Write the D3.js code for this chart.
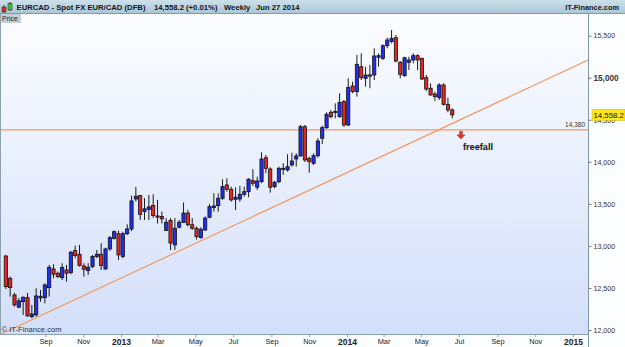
<!DOCTYPE html>
<html>
<head>
<meta charset="utf-8">
<script src="https://cdn.jsdelivr.net/npm/d3@7"></script>
<style>
body { margin: 0; background: #fff; }
svg { display: block; font-family: "Liberation Sans", Arial, sans-serif; }
</style>
</head>
<body>
<svg id="myGraph"></svg>
<script>
var width = 625;
var height = 347;

// weekly EUR/CAD candles (Jun 2012 - Jun 2014)
var opens = [12880,12615,12417,12271,12337,12385,12159,12179,12381,12385,12504,12726,12675,12623,12714,12682,12944,12901,12762,12706,
  12754,12873,12901,12726,12964,13089,13145,12873,13145,13202,13558,13598,13409,13432,13480,13357,13349,13184,13303,13012,
  13222,13279,13391,13252,13210,13098,13190,13341,13455,13479,13567,13725,13674,13555,13558,13614,13645,13776,13698,13764,
  14049,13915,13705,13764,13915,13903,13963,14034,14070,14418,14042,13983,14073,14280,14406,14589,14587,14537,14716,14438,
  14902,14835,15131,14993,15033,15033,15243,15231,15381,15429,15476,15184,15024,15184,15211,15262,15231,15001,14875,14807,
  14763,14914,14684,14617];
var highs = [12893,12635,12441,12381,12397,12441,12298,12497,12476,12556,12774,12782,12695,12794,12774,12940,13003,13012,12794,12794,
  12893,12952,13032,12979,13119,13184,13184,13169,13257,13598,13701,13606,13568,13606,13614,13547,13409,13331,13331,13331,
  13309,13517,13429,13331,13231,13222,13351,13499,13626,13626,13793,13805,13705,13698,13713,13705,13805,13912,13824,14114,
  14082,13935,13772,13942,13983,14090,14109,14102,14438,14438,14061,14102,14280,14430,14589,14617,14696,14815,14736,14993,
  14953,15271,15291,15131,15152,15350,15291,15398,15476,15568,15508,15199,15250,15250,15291,15279,15238,15033,14934,14834,
  14934,14934,14763,14637];
var lows = [12488,12397,12278,12262,12179,12159,12140,12159,12337,12318,12397,12616,12616,12595,12575,12663,12854,12754,12635,12655,
  12735,12854,12714,12714,12940,13077,12833,12854,13129,13176,13527,13309,13309,13309,13333,13266,13266,13176,12952,12952,
  13210,13272,13231,13190,13077,13086,13176,13329,13407,13407,13547,13645,13526,13428,13526,13586,13579,13713,13666,13745,
  13864,13633,13686,13745,13844,13883,13942,13942,14061,13998,13871,13963,14049,14212,14391,14517,14517,14525,14418,14426,
  14815,14775,14973,14894,14875,14973,15131,15211,15350,15410,15184,14993,15013,15092,15172,15092,14973,14842,14787,14724,
  14736,14668,14589,14517];
var closes = [12516,12504,12298,12346,12390,12167,12191,12405,12401,12536,12746,12663,12635,12744,12675,12925,12885,12766,12723,12746,
  12873,12901,12766,12964,13098,13169,12893,13145,13202,13535,13591,13376,13441,13464,13361,13349,13322,13282,13034,13210,
  13282,13391,13252,13210,13110,13198,13331,13467,13475,13567,13705,13674,13547,13579,13614,13645,13793,13745,13772,14034,
  13923,13698,13757,13923,13923,13942,14010,14070,14418,14022,14002,14073,14248,14406,14566,14537,14599,14708,14438,14886,
  14835,15160,15001,15033,15030,15259,15262,15381,15449,15469,15199,15041,15238,15211,15262,15211,14985,14866,14795,14775,
  14914,14684,14617,14558.2];
var weeks = d3.timeFriday.range(new Date(2012, 5, 29), new Date(2014, 5, 21));

var priceTicks = [12000, 12500, 13000, 13500, 14000, 14500, 15000, 15500];
var supportLevel = 14380;
var lastPrice = 14558.2;
var trendDates = [new Date(2012, 7, 1), new Date(2014, 5, 1)];
var trendPrices = [12091, 14391];
var arrowDate = new Date(2014, 6, 4);

var plotLeft = 1, plotRight = 588, plotTop = 14, plotBottom = 334;

var svg = d3.select("#myGraph")
    .attr("width", width)
    .attr("height", height);

var x = d3.scaleTime()
    .domain([new Date(2013, 0, 1), new Date(2015, 0, 1)])
    .range([121, 573]);
var y = d3.scaleLinear()
    .domain([12000, 15500])
    .range([330, 35.7]);

var defs = svg.append("defs");
var bg = defs.append("linearGradient").attr("id", "bg").attr("x1", 0).attr("y1", 0).attr("x2", 0).attr("y2", 1);
bg.append("stop").attr("offset", "0%").attr("stop-color", "#fcfdff");
bg.append("stop").attr("offset", "100%").attr("stop-color", "#d3dffa");
var hd = defs.append("linearGradient").attr("id", "hd").attr("x1", 0).attr("y1", 0).attr("x2", 0).attr("y2", 1);
hd.append("stop").attr("offset", "0%").attr("stop-color", "#cde0ea");
hd.append("stop").attr("offset", "100%").attr("stop-color", "#a9c5d5");
defs.append("clipPath").attr("id", "plotClip")
  .append("rect").attr("x", plotLeft).attr("y", plotTop)
  .attr("width", plotRight - plotLeft).attr("height", plotBottom - plotTop);

// backgrounds
svg.append("rect").attr("width", width).attr("height", height).attr("fill", "#fcfdfe");
svg.append("rect")
    .attr("x", plotLeft).attr("y", plotTop)
    .attr("width", plotRight - plotLeft).attr("height", plotBottom - plotTop)
    .attr("fill", "url(#bg)");

// header bar
svg.append("rect").attr("width", width).attr("height", 14).attr("fill", "url(#hd)");
svg.append("line").attr("x1", 0).attr("x2", width).attr("y1", 13.5).attr("y2", 13.5).attr("stroke", "#7f9bab");
var icon = svg.append("g");
icon.append("line").attr("x1", 4).attr("x2", 4).attr("y1", 5).attr("y2", 13).attr("stroke", "#333");
icon.append("rect").attr("x", 2).attr("y", 7).attr("width", 4).attr("height", 5).attr("fill", "#e02a22").attr("stroke", "#333").attr("stroke-width", 0.6);
icon.append("line").attr("x1", 10).attr("x2", 10).attr("y1", 2).attr("y2", 11).attr("stroke", "#333");
icon.append("rect").attr("x", 8).attr("y", 3.5).attr("width", 4).attr("height", 6.5).attr("fill", "#3fc23a").attr("stroke", "#333").attr("stroke-width", 0.6);

var headerText = [
  {x: 16.5, t: "EURCAD - Spot FX EUR/CAD (DFB)"},
  {x: 154, t: "14,558.2 (+0.01%)"},
  {x: 224, t: "Weekly"},
  {x: 256, t: "Jun 27 2014"}
];
svg.selectAll(".hdr").data(headerText).enter().append("text")
    .attr("x", function(d){ return d.x; })
    .attr("y", 10.3)
    .attr("font-size", "7.7px").attr("font-weight", "bold").attr("fill", "#151515")
    .text(function(d){ return d.t; });
svg.append("text").attr("x", 619).attr("y", 10.3).attr("text-anchor", "end")
    .attr("font-size", "7.4px").attr("font-weight", "bold").attr("fill", "#151515")
    .text("IT-Finance.com");

// "Price" tag
svg.append("rect").attr("x", 0).attr("y", 14).attr("width", 21).attr("height", 9).attr("fill", "#c3cfd7");
svg.append("text").attr("x", 2).attr("y", 21).attr("font-size", "7px").attr("fill", "#222").text("Price");

// frame lines
svg.append("line").attr("x1", 0.5).attr("x2", 0.5).attr("y1", 14).attr("y2", plotBottom).attr("stroke", "#8da2b0");
svg.append("line").attr("x1", plotRight + 0.5).attr("x2", plotRight + 0.5).attr("y1", 14).attr("y2", height).attr("stroke", "#7e96a6");
svg.append("line").attr("x1", 0).attr("x2", plotRight).attr("y1", plotBottom + 0.5).attr("y2", plotBottom + 0.5).attr("stroke", "#8aa0b0");

var plot = svg.append("g").attr("clip-path", "url(#plotClip)");

// support line
plot.append("line")
    .attr("x1", plotLeft).attr("x2", plotRight)
    .attr("y1", y(supportLevel)).attr("y2", y(supportLevel))
    .attr("stroke", "#f39a62").attr("stroke-width", 1.2);
svg.append("text").attr("x", 585).attr("y", y(supportLevel) - 2.5).attr("text-anchor", "end")
    .attr("font-size", "6.5px").attr("fill", "#333").text(d3.format(",")(supportLevel));

// trend line, extended across the plot
var trendSlope = (trendPrices[1] - trendPrices[0]) / (trendDates[1] - trendDates[0]);
function trendAt(date) { return trendPrices[0] + trendSlope * (date - trendDates[0]); }
var tStart = x.invert(plotLeft - 5), tEnd = x.invert(plotRight);
plot.append("line")
    .attr("x1", x(tStart)).attr("y1", y(trendAt(tStart)))
    .attr("x2", x(tEnd)).attr("y2", y(trendAt(tEnd)))
    .attr("stroke", "#f39a62").attr("stroke-width", 1.2);

// candles
var candle = plot.selectAll(".candle")
    .data(weeks)
    .enter().append("g").attr("class", "candle");
candle.append("line")
    .attr("x1", function(d){ return x(d); })
    .attr("x2", function(d){ return x(d); })
    .attr("y1", function(d, i){ return y(highs[i]); })
    .attr("y2", function(d, i){ return y(lows[i]); })
    .attr("stroke", "#1a1a1a").attr("stroke-width", 1);
candle.append("rect")
    .attr("x", function(d){ return x(d) - 1.6; })
    .attr("width", 3.2)
    .attr("y", function(d, i){ return y(Math.max(opens[i], closes[i])); })
    .attr("height", function(d, i){ return Math.max(1.2, Math.abs(y(opens[i]) - y(closes[i]))); })
    .attr("fill", function(d, i){ return closes[i] >= opens[i] ? "#1f2ff0" : "#e6261f"; })
    .attr("stroke", "#111").attr("stroke-width", 0.8);

// arrow + annotation
var ax = x(arrowDate), ay = y(supportLevel) + 1.5;
svg.append("path")
    .attr("d", "M" + (ax - 1.5) + "," + ay + "h3v3.5h2.5l-4,4l-4,-4h2.5z")
    .attr("fill", "#e03a2e").attr("stroke", "#a82018").attr("stroke-width", 0.5);
svg.append("text").attr("x", ax + 2).attr("y", y(supportLevel) + 20)
    .attr("font-size", "9.2px").attr("font-weight", "bold").attr("fill", "#111")
    .text("freefall");

// watermark
svg.append("text").attr("x", 1.5).attr("y", 332).attr("font-size", "7.6px").attr("fill", "#333")
    .text("\u00a9 IT-Finance.com");

// y axis
var yAxis = svg.append("g")
    .attr("transform", "translate(" + (plotRight + 0.5) + ",0)")
    .call(d3.axisRight(y).tickValues(priceTicks).tickSize(3).tickPadding(2).tickFormat(d3.format(",")));
yAxis.select(".domain").remove();
yAxis.selectAll(".tick line").attr("stroke", "#777");
yAxis.selectAll(".tick text")
    .attr("fill", "#333")
    .attr("font-family", "'Liberation Sans', Arial, sans-serif")
    .attr("font-size", function(d){ return d === 15000 ? "8.2px" : "7.1px"; })
    .attr("font-weight", function(d){ return d === 15000 ? "bold" : "normal"; });

// last price tag
svg.append("rect").attr("x", 592).attr("y", y(lastPrice) - 5.5).attr("width", 33).attr("height", 11)
    .attr("fill", "#ffe81a").attr("stroke", "#c8b400").attr("stroke-width", 0.5);
svg.append("text").attr("x", 593.5).attr("y", y(lastPrice) + 3)
    .attr("font-size", "7.8px").attr("fill", "#111").text(d3.format(",.1f")(lastPrice));

// x axis: every second month across the visible range
var monthTicks = d3.timeMonth.every(2).range(x.invert(10), x.invert(585));
var xAxis = svg.append("g")
    .attr("transform", "translate(0," + (plotBottom + 0.5) + ")")
    .call(d3.axisBottom(x)
        .tickValues(monthTicks)
        .tickSize(2.5).tickPadding(1.5)
        .tickFormat(function(d){ return d.getMonth() === 0 ? d3.timeFormat("%Y")(d) : d3.timeFormat("%b")(d); }));
xAxis.select(".domain").remove();
xAxis.selectAll(".tick line").attr("stroke", "#8a9aa6");
xAxis.selectAll(".tick text")
    .attr("fill", "#222")
    .attr("font-family", "'Liberation Sans', Arial, sans-serif")
    .attr("font-size", function(d){ return d.getMonth() === 0 ? "8.5px" : "7.4px"; })
    .attr("font-weight", function(d){ return d.getMonth() === 0 ? "bold" : "normal"; });
</script>
</body>
</html>
